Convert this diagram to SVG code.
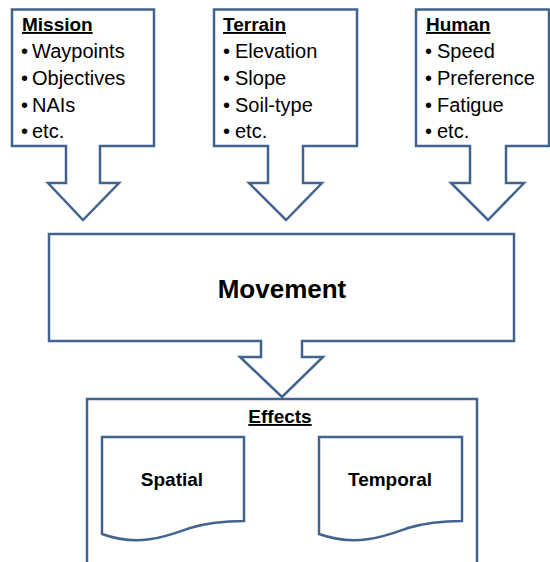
<svg xmlns="http://www.w3.org/2000/svg" width="550" height="562" viewBox="0 0 550 562">
<style>
.s{fill:#fff;stroke:#41648f;stroke-width:2.5;stroke-linejoin:miter}
.t{font-family:"Liberation Sans",Arial,sans-serif;font-size:19px;fill:#000}
.l{font-size:20px}
.b{font-weight:bold}
.u{text-decoration:underline}
.m{text-anchor:middle}
</style>
<rect width="550" height="562" fill="#fff"/>
<g id="mission">
<path class="s" d="M12,9.5 H154 V146 H100 V183 H119 L83,220 L48,183 H66 V146 H12 Z"/>
<text class="t b u" x="22" y="31">Mission</text>
<text class="t l" x="21" y="58">•</text><text class="t l" x="32" y="58">Waypoints</text>
<text class="t l" x="21" y="85">•</text><text class="t l" x="32" y="85">Objectives</text>
<text class="t l" x="21" y="112">•</text><text class="t l" x="32" y="112">NAIs</text>
<text class="t l" x="21" y="138">•</text><text class="t l" x="32" y="138">etc.</text>
</g>
<g id="terrain">
<path class="s" d="M214,9.5 H357 V146 H303 V183 H322 L286,220 L249,183 H268 V146 H214 Z"/>
<text class="t b u" x="223" y="31">Terrain</text>
<text class="t l" x="223" y="58">•</text><text class="t l" x="235" y="58">Elevation</text>
<text class="t l" x="223" y="85">•</text><text class="t l" x="235" y="85">Slope</text>
<text class="t l" x="223" y="112">•</text><text class="t l" x="235" y="112">Soil-type</text>
<text class="t l" x="223" y="138">•</text><text class="t l" x="235" y="138">etc.</text>
</g>
<g id="human">
<path class="s" d="M416,9.5 H549 V146 H506 V183 H524 L488,220 L451,183 H470 V146 H416 Z"/>
<text class="t b u" x="426" y="31">Human</text>
<text class="t l" x="425" y="58">•</text><text class="t l" x="437" y="58">Speed</text>
<text class="t l" x="425" y="85">•</text><text class="t l" x="437" y="85">Preference</text>
<text class="t l" x="425" y="112">•</text><text class="t l" x="437" y="112">Fatigue</text>
<text class="t l" x="425" y="138">•</text><text class="t l" x="437" y="138">etc.</text>
</g>
<g id="movement">
<path class="s" d="M49,234 H514 V341 H302 V357 H323 L282,397 L240,357 H261 V341 H49 Z"/>
<text class="t b m" x="282" y="298" style="font-size:26px">Movement</text>
</g>
<g id="effects">
<rect class="s" x="87" y="399" width="390" height="175"/>
<text class="t b u m" x="280" y="423">Effects</text>
</g>
<g id="spatial">
<path class="s" d="M102,437 H244 V521 C230,521 210,522 190,528 C170,535 140,548 102,534 Z"/>
<text class="t b m" x="172" y="486">Spatial</text>
</g>
<g id="temporal">
<path class="s" d="M319,437 H462 V521 C448,521 428,522 408,528 C388,535 358,548 319,534 Z"/>
<text class="t b m" x="390" y="486">Temporal</text>
</g>
<g id="connectors"/>
</svg>
